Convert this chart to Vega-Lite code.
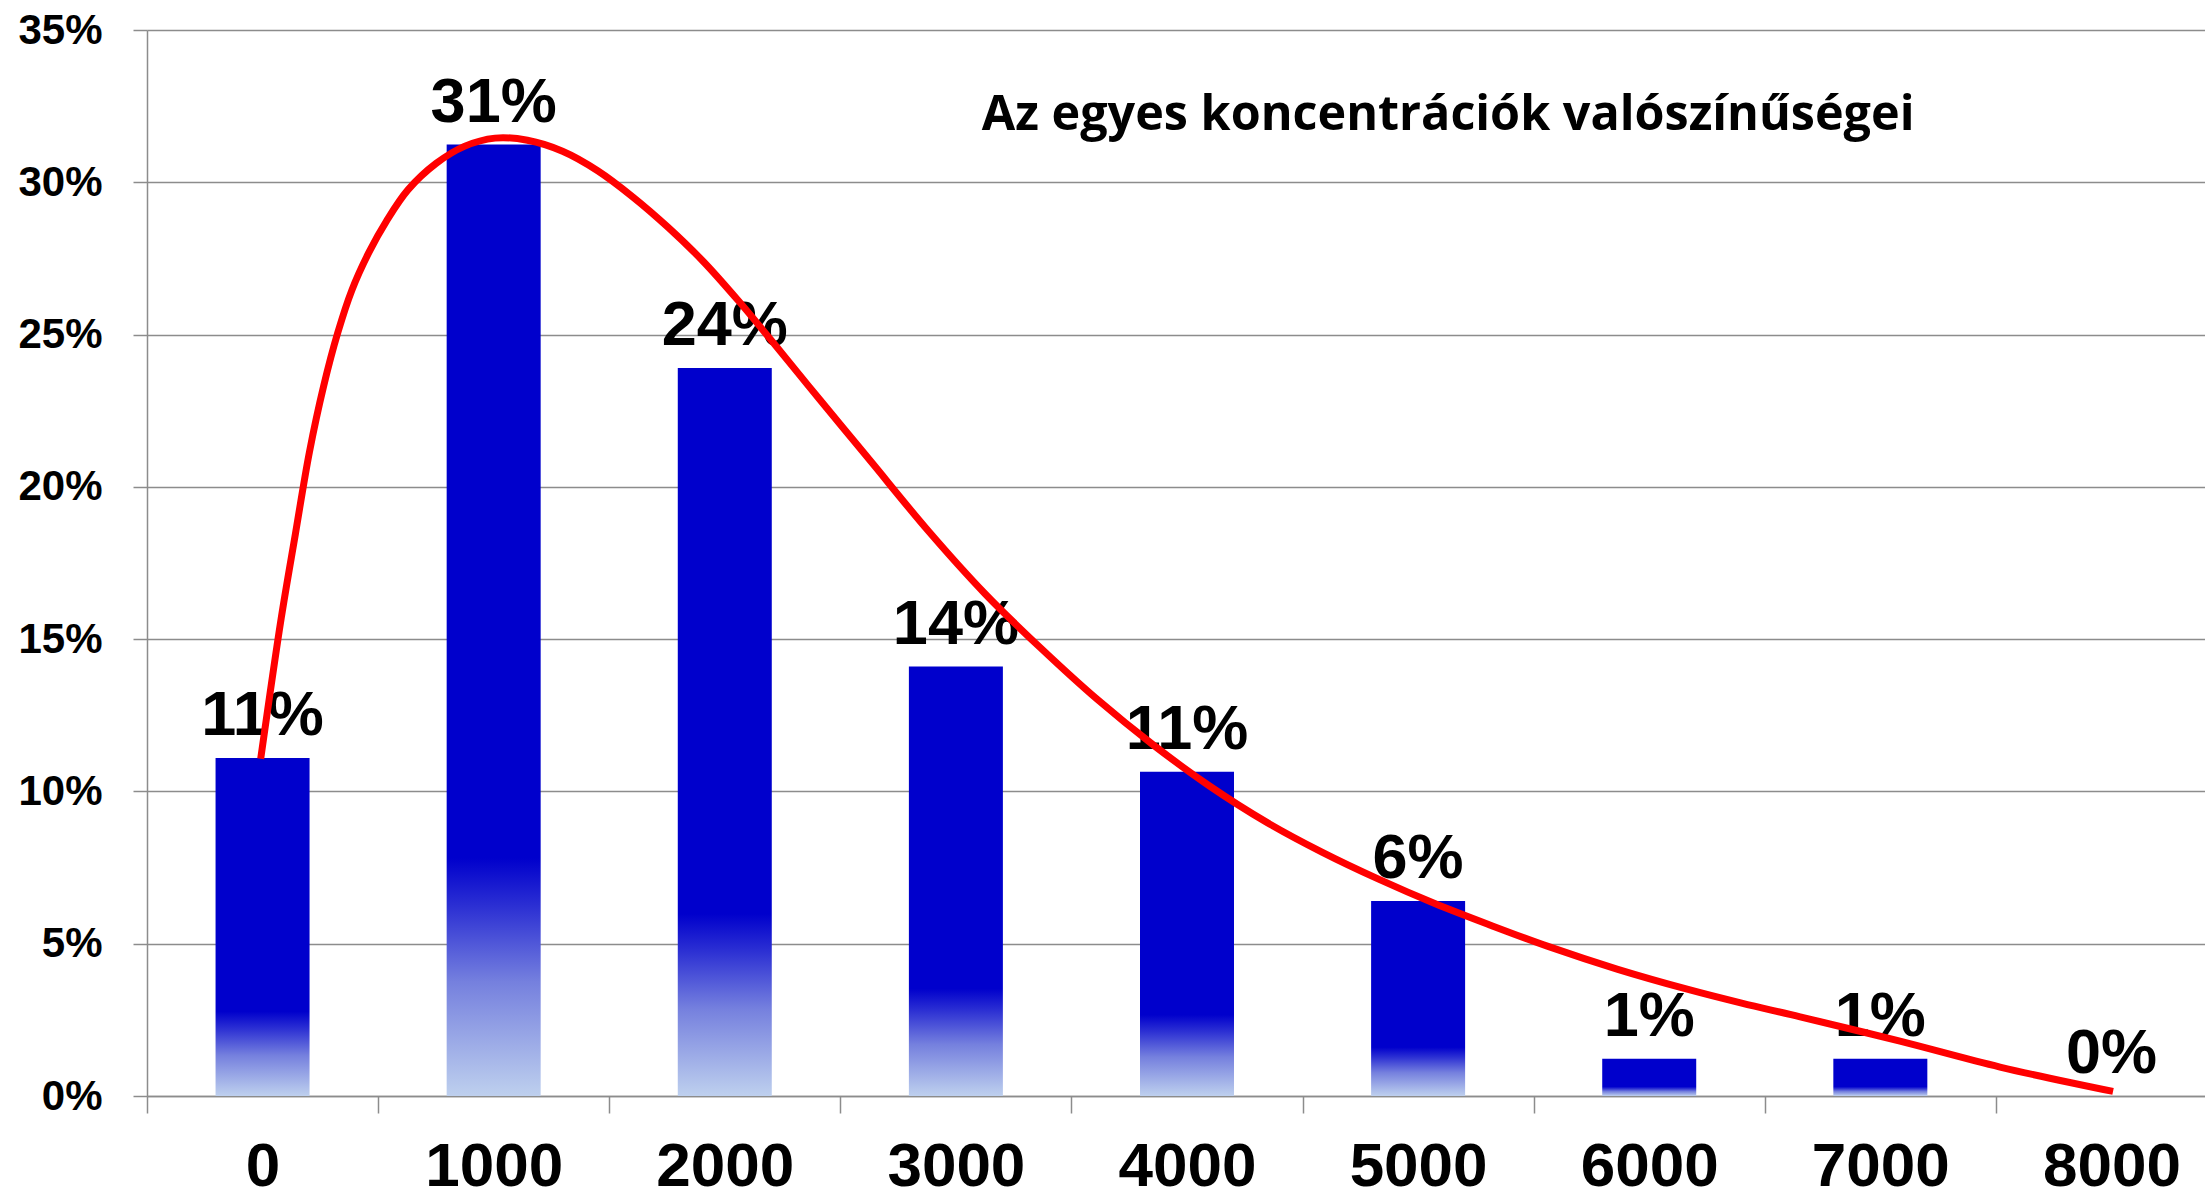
{
  "$schema": "https://vega.github.io/schema/vega-lite/v6.json",
  "width": 2080,
  "height": 1066,
  "autosize": {"type": "none"},
  "padding": {"left": 147, "top": 30, "right": 0, "bottom": 95},
  "background": "white",
  "config": {"view": {"stroke": null}, "font": "Liberation Sans"},
  "datasets": {
    "bars": [
      {"conc": "0", "p": 0.111, "label": "11%"},
      {"conc": "1000", "p": 0.3124, "label": "31%"},
      {"conc": "2000", "p": 0.239, "label": "24%"},
      {"conc": "3000", "p": 0.141, "label": "14%"},
      {"conc": "4000", "p": 0.1065, "label": "11%"},
      {"conc": "5000", "p": 0.064, "label": "6%"},
      {"conc": "6000", "p": 0.0122, "label": "1%"},
      {"conc": "7000", "p": 0.0122, "label": "1%"},
      {"conc": "8000", "p": 0.0, "label": "0%"}
    ],
    "curve": [
      {"c": -8, "p": 0.1107},
      {"c": 81, "p": 0.157},
      {"c": 142, "p": 0.1845},
      {"c": 203, "p": 0.2115},
      {"c": 264, "p": 0.233},
      {"c": 325, "p": 0.2505},
      {"c": 386, "p": 0.2645},
      {"c": 459, "p": 0.2768},
      {"c": 538, "p": 0.2875},
      {"c": 629, "p": 0.2975},
      {"c": 751, "p": 0.3062},
      {"c": 873, "p": 0.3118},
      {"c": 1006, "p": 0.3145},
      {"c": 1146, "p": 0.3138},
      {"c": 1298, "p": 0.3102},
      {"c": 1450, "p": 0.3038},
      {"c": 1602, "p": 0.2952},
      {"c": 1755, "p": 0.2852},
      {"c": 1907, "p": 0.2740},
      {"c": 2060, "p": 0.2610},
      {"c": 2211, "p": 0.2472},
      {"c": 2364, "p": 0.2330},
      {"c": 2516, "p": 0.2190},
      {"c": 2638, "p": 0.2078},
      {"c": 2881, "p": 0.1855},
      {"c": 3125, "p": 0.1650},
      {"c": 3368, "p": 0.1470},
      {"c": 3612, "p": 0.1302},
      {"c": 3855, "p": 0.1152},
      {"c": 4099, "p": 0.1017},
      {"c": 4342, "p": 0.0900},
      {"c": 4586, "p": 0.0800},
      {"c": 4829, "p": 0.0712},
      {"c": 5072, "p": 0.0632},
      {"c": 5316, "p": 0.0560},
      {"c": 5559, "p": 0.0492},
      {"c": 5864, "p": 0.0416},
      {"c": 6168, "p": 0.0350},
      {"c": 6400, "p": 0.0305},
      {"c": 6653, "p": 0.0260},
      {"c": 7085, "p": 0.0180},
      {"c": 7518, "p": 0.0095},
      {"c": 8007, "p": 0.0015}
    ]
  },
  "layer": [
    {
      "layer": [
        {
          "data": {"name": "bars"},
          "mark": {
            "type": "bar",
            "width": 94,
            "color": {
              "gradient": "linear",
              "x1": 0, "y1": 0, "x2": 0, "y2": 1,
              "stops": [
                {"offset": 0, "color": "#0000CC"},
                {"offset": 0.75, "color": "#0000CC"},
                {"offset": 0.8, "color": "#2B2FD3"},
                {"offset": 0.88, "color": "#7580DE"},
                {"offset": 1, "color": "#BED0EE"}
              ]
            }
          },
          "encoding": {
            "x": {
              "field": "conc",
              "type": "ordinal",
              "sort": null,
              "scale": {"paddingInner": 0, "paddingOuter": 0},
              "axis": {
                "title": null,
                "tickBand": "extent",
                "labelAngle": 0,
                "labelFont": "Liberation Sans",
                "labelFontWeight": "bold",
                "labelFontSize": 62,
                "labelColor": "black",
                "labelPadding": 23,
                "tickSize": 17,
                "tickColor": "#8c8c8c",
                "tickWidth": 1.5,
                "domainColor": "#8c8c8c",
                "domainWidth": 1.5,
                "grid": false
              }
            },
            "y": {
              "field": "p",
              "type": "quantitative",
              "scale": {"domain": [0, 0.35], "nice": false},
              "axis": {
                "title": null,
                "values": [0, 0.05, 0.1, 0.15, 0.2, 0.25, 0.3, 0.35],
                "format": ".0%",
                "labelFont": "Liberation Sans",
                "labelFontWeight": "bold",
                "labelFontSize": 42,
                "labelColor": "black",
                "labelPadding": 31,
                "tickSize": 14,
                "tickColor": "#8c8c8c",
                "tickWidth": 1.5,
                "domainColor": "#8c8c8c",
                "domainWidth": 1.5,
                "grid": true,
                "gridColor": "#8c8c8c",
                "gridWidth": 1.5
              }
            }
          }
        },
        {
          "data": {"name": "bars"},
          "mark": {
            "type": "text",
            "font": "Liberation Sans",
            "fontSize": 63,
            "fontWeight": "bold",
            "color": "black",
            "baseline": "alphabetic",
            "dy": -23
          },
          "encoding": {
            "x": {"field": "conc", "type": "ordinal", "sort": null},
            "y": {"field": "p", "type": "quantitative"},
            "text": {"field": "label"}
          }
        }
      ]
    },
    {
      "layer": [
        {
          "data": {"name": "curve"},
          "mark": {"type": "line", "color": "#FF0000", "strokeWidth": 7, "interpolate": "catmull-rom"},
          "encoding": {
            "x": {
              "field": "c",
              "type": "quantitative",
              "scale": {"domain": [-500, 8500], "nice": false, "zero": false},
              "axis": null
            },
            "y": {"field": "p", "type": "quantitative"}
          }
        },
        {
          "data": {"values": [{}]},
          "mark": {
            "type": "text",
            "font": "Open Sans",
            "fontSize": 48.5,
            "fontWeight": "bold",
            "color": "black",
            "align": "center",
            "baseline": "alphabetic"
          },
          "encoding": {
            "x": {"datum": 5130, "type": "quantitative"},
            "y": {"datum": 0.3173, "type": "quantitative"},
            "text": {"value": "Az egyes koncentrációk valószínűségei"}
          }
        }
      ]
    }
  ],
  "resolve": {"scale": {"x": "independent"}}
}
